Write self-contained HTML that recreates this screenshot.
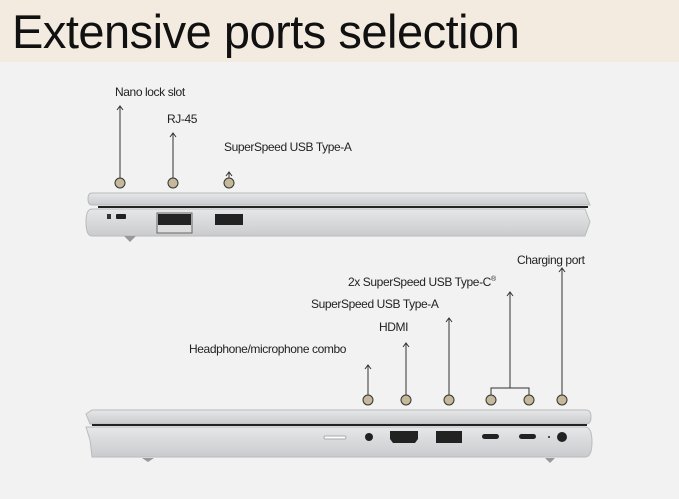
<!DOCTYPE html>
<html><head><style>
body{margin:0;width:679px;height:499px;background:#f2f2f2;overflow:hidden;position:relative;font-family:"Liberation Sans",sans-serif}
.hdr{position:absolute;left:0;top:0;width:679px;height:62px;background:#f3ebe0}
.t{position:absolute;left:12px;top:4px;font-size:47px;color:#111;letter-spacing:-0.5px;transform:scaleX(1.0);transform-origin:left;white-space:nowrap}
.l{position:absolute;font-size:12px;color:#222;letter-spacing:-0.4px;white-space:nowrap}
</style></head><body>
<div class="hdr"></div><div class="t">Extensive ports selection</div>
<div class="l" style="left:115px;top:85px">Nano lock slot</div>
<div class="l" style="left:167px;top:112px">RJ-45</div>
<div class="l" style="left:224px;top:140px">SuperSpeed USB Type-A</div>
<div class="l" style="left:517px;top:253px">Charging port</div>
<div class="l" style="left:348px;top:275px">2x SuperSpeed USB Type-C<sup style="font-size:7px">®</sup></div>
<div class="l" style="left:311px;top:297px">SuperSpeed USB Type-A</div>
<div class="l" style="left:379px;top:320px">HDMI</div>
<div class="l" style="left:189px;top:342px">Headphone/microphone combo</div>
<svg width="679" height="499" style="position:absolute;left:0;top:0">
<defs><linearGradient id="g" x1="0" y1="0" x2="0" y2="1"><stop offset="0" stop-color="#e6e7e9"/><stop offset="1" stop-color="#c9cbce"/></linearGradient></defs>
<g stroke="#333" stroke-width="1" fill="none">
<path d="M120 106V178M117 110l3-4 3 4"/>
<path d="M173 133V178M170 137l3-4 3 4"/>
<path d="M229 172V178M226 176l3-4 3 4"/>
<path d="M368 365V395M365 369l3-4 3 4"/>
<path d="M406 343V395M403 347l3-4 3 4"/>
<path d="M449 318V395M446 322l3-4 3 4"/>
<path d="M510 292V388M507 296l3-4 3 4M491 395V388H529V395"/>
<path d="M562 268V395M559 272l3-4 3 4"/>
</g>
<g fill="#c6b89a" stroke="#333" stroke-width="1">
<circle cx="120" cy="183" r="5"/><circle cx="173" cy="183" r="5"/><circle cx="229" cy="183" r="5"/>
<circle cx="368" cy="400" r="5"/><circle cx="406" cy="400" r="5"/><circle cx="449" cy="400" r="5"/><circle cx="491" cy="400" r="5"/><circle cx="529" cy="400" r="5"/><circle cx="562" cy="400" r="5"/>
</g>
<path d="M92 193H585L590 205H92Q88 205 88 199Q88 193 92 193Z" fill="url(#g)" stroke="#bbb"/>
<rect x="98" y="206" width="490" height="2" fill="#222"/>
<path d="M92 209H585L590 222L585 236H92Q86 236 86 222Q86 209 92 209Z" fill="url(#g)" stroke="#bbb"/>
<path d="M124 236L130 242L136 236Z" fill="#999"/>
<rect x="107" y="214" width="4" height="5" fill="#333"/>
<rect x="116" y="214" width="10" height="5" rx="1" fill="#222"/>
<rect x="157" y="213" width="35" height="20" fill="#ddd" stroke="#666"/>
<rect x="158" y="214" width="33" height="11" fill="#222"/>
<rect x="215" y="214" width="28" height="11" fill="#222"/>
<path d="M92 410H586Q591 410 591 417Q591 424 586 424H90L86 414Z" fill="url(#g)" stroke="#bbb"/>
<rect x="92" y="424" width="495" height="2" fill="#222"/>
<path d="M86 427H585Q592 427 592 442Q592 457 585 457H92L90 440Z" fill="url(#g)" stroke="#bbb"/>
<path d="M142 458L148 462L154 458Z" fill="#999"/><path d="M545 458L550 463L555 458Z" fill="#999"/>
<rect x="324" y="436" width="22" height="3" rx="1.5" fill="#fff" stroke="#aaa"/>
<circle cx="369" cy="437" r="4" fill="#222"/>
<path d="M390 431H418V439L415 443H393L390 439Z" fill="#222"/>
<rect x="436" y="431" width="26" height="12" fill="#222"/>
<rect x="482" y="434" width="17" height="5" rx="2.5" fill="#222"/>
<rect x="519" y="434" width="17" height="5" rx="2.5" fill="#222"/>
<circle cx="549" cy="437" r="1" fill="#222"/>
<circle cx="562" cy="437" r="5" fill="#222"/>
</svg>
</body></html>
